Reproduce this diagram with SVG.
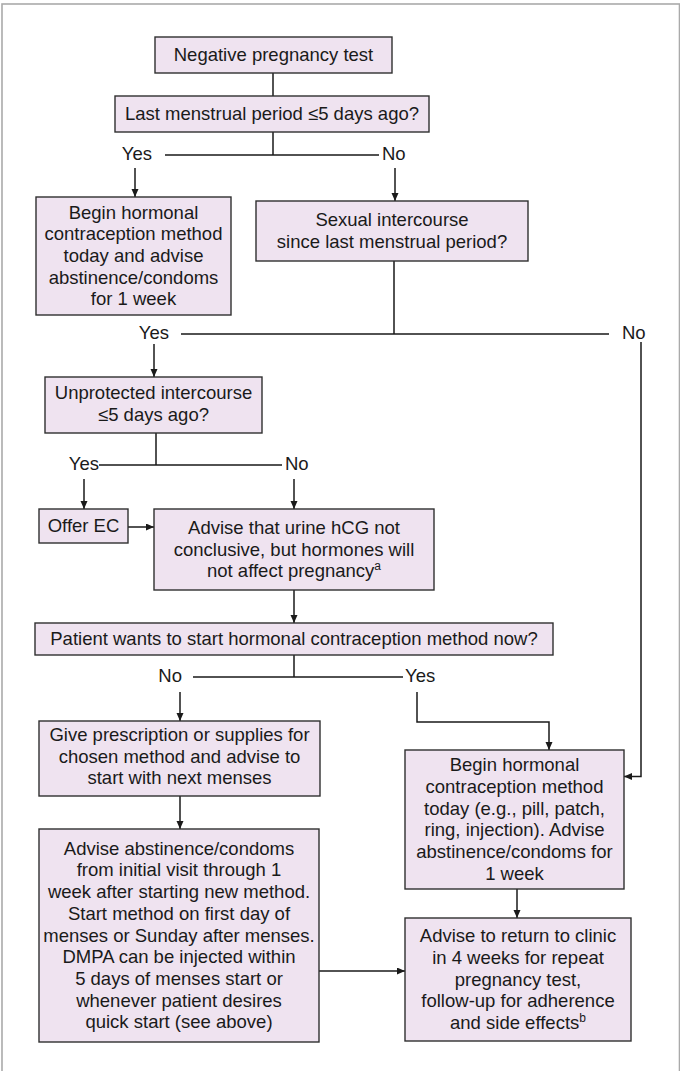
<svg xmlns="http://www.w3.org/2000/svg" width="680" height="1071" viewBox="0 0 680 1071">
<style>
.box{fill:#efe3f0;stroke:#2f2f2f;stroke-width:1.4}
text{font-family:"Liberation Sans",Arial,sans-serif;font-size:18.5px;fill:#1a1a1a}
.c{text-anchor:middle}
.e{text-anchor:end}
.ln{fill:none;stroke:#1a1a1a;stroke-width:1.5}
.sup{font-size:12px}
</style>
<defs>
<marker id="ah" markerUnits="userSpaceOnUse" markerWidth="9" markerHeight="8" refX="8" refY="3.5" orient="auto">
<path d="M0,0 L8,3.5 L0,7 z" fill="#1a1a1a"/>
</marker>
</defs>
<rect x="2" y="4" width="677.5" height="1080" fill="none" stroke="#aaaaaa" stroke-width="1.6"/>
<g id="connectors">
<path class="ln" d="M273,73 V96"/>
<path class="ln" d="M273,132 V155 M165,155 H379"/>
<path class="ln" d="M135,168 V197" marker-end="url(#ah)"/>
<path class="ln" d="M395,168 V201" marker-end="url(#ah)"/>
<path class="ln" d="M394,261 V334 M181,334 H609"/>
<path class="ln" d="M641,342 V776.5 H624" marker-end="url(#ah)"/>
<path class="ln" d="M154,344 V377" marker-end="url(#ah)"/>
<path class="ln" d="M156,433 V465 M99,465 H282"/>
<path class="ln" d="M84,479 V509" marker-end="url(#ah)"/>
<path class="ln" d="M294,479 V509" marker-end="url(#ah)"/>
<path class="ln" d="M128,527 H154" marker-end="url(#ah)"/>
<path class="ln" d="M294,590 V623" marker-end="url(#ah)"/>
<path class="ln" d="M294,655 V677 M193,677 H403"/>
<path class="ln" d="M180,692 V721" marker-end="url(#ah)"/>
<path class="ln" d="M417,692 V722 H549 V750" marker-end="url(#ah)"/>
<path class="ln" d="M180,796 V829" marker-end="url(#ah)"/>
<path class="ln" d="M517,889 V918" marker-end="url(#ah)"/>
<path class="ln" d="M319,971 H405" marker-end="url(#ah)"/>
<text class="e" x="152" y="160">Yes</text>
<text x="382" y="160">No</text>
<text class="e" x="169" y="339">Yes</text>
<text x="622" y="339">No</text>
<text class="e" x="99" y="470">Yes</text>
<text x="285" y="470">No</text>
<text class="e" x="182" y="682">No</text>
<text x="405" y="682">Yes</text>
</g>
<g id="n1">
<rect class="box" x="155" y="37" width="237" height="36"/>
<text class="c" x="273.5" y="61">Negative pregnancy test</text>
</g>
<g id="n2">
<rect class="box" x="115" y="96" width="314" height="36"/>
<text class="c" x="272" y="120">Last menstrual period ≤5 days ago?</text>
</g>
<g id="n3">
<rect class="box" x="36" y="197" width="195" height="118"/>
<text class="c" x="133.5" y="218.6">Begin hormonal</text>
<text class="c" x="133.5" y="240.3">contraception method</text>
<text class="c" x="133.5" y="262">today and advise</text>
<text class="c" x="133.5" y="283.7">abstinence/condoms</text>
<text class="c" x="133.5" y="305.4">for 1 week</text>
</g>
<g id="n4">
<rect class="box" x="256" y="201" width="272" height="60"/>
<text class="c" x="392" y="226.2">Sexual intercourse</text>
<text class="c" x="392" y="247.9">since last menstrual period?</text>
</g>
<g id="n5">
<rect class="box" x="45" y="377" width="217" height="56"/>
<text class="c" x="153.5" y="399">Unprotected intercourse</text>
<text class="c" x="153.5" y="420.7">≤5 days ago?</text>
</g>
<g id="n6">
<rect class="box" x="39" y="509" width="89" height="34"/>
<text class="c" x="83.5" y="532">Offer EC</text>
</g>
<g id="n7">
<rect class="box" x="154" y="509" width="280" height="81"/>
<text class="c" x="294" y="533.8">Advise that urine hCG not</text>
<text class="c" x="294" y="555.5">conclusive, but hormones will</text>
<text class="c" x="294" y="577.2">not affect pregnancy<tspan class="sup" dy="-7">a</tspan></text>
</g>
<g id="n8">
<rect class="box" x="35" y="623" width="518" height="32"/>
<text class="c" x="294" y="645">Patient wants to start hormonal contraception method now?</text>
</g>
<g id="n9">
<rect class="box" x="39" y="721" width="281" height="75"/>
<text class="c" x="179.5" y="741">Give prescription or supplies for</text>
<text class="c" x="179.5" y="762.7">chosen method and advise to</text>
<text class="c" x="179.5" y="784.4">start with next menses</text>
</g>
<g id="n10">
<rect class="box" x="405" y="750" width="219" height="139"/>
<text class="c" x="514.5" y="771.3">Begin hormonal</text>
<text class="c" x="514.5" y="793">contraception method</text>
<text class="c" x="514.5" y="814.7">today (e.g., pill, patch,</text>
<text class="c" x="514.5" y="836.4">ring, injection). Advise</text>
<text class="c" x="514.5" y="858.1">abstinence/condoms for</text>
<text class="c" x="514.5" y="879.8">1 week</text>
</g>
<g id="n11">
<rect class="box" x="39" y="829" width="280" height="213"/>
<text class="c" x="179" y="854.7">Advise abstinence/condoms</text>
<text class="c" x="179" y="876.4">from initial visit through 1</text>
<text class="c" x="179" y="898.1">week after starting new method.</text>
<text class="c" x="179" y="919.8">Start method on first day of</text>
<text class="c" x="179" y="941.5">menses or Sunday after menses.</text>
<text class="c" x="179" y="963.2">DMPA can be injected within</text>
<text class="c" x="179" y="984.9">5 days of menses start or</text>
<text class="c" x="179" y="1006.6">whenever patient desires</text>
<text class="c" x="179" y="1028.3">quick start (see above)</text>
</g>
<g id="n12">
<rect class="box" x="405" y="918" width="226" height="123"/>
<text class="c" x="518" y="942.1">Advise to return to clinic</text>
<text class="c" x="518" y="963.8">in 4 weeks for repeat</text>
<text class="c" x="518" y="985.5">pregnancy test,</text>
<text class="c" x="518" y="1007.2">follow-up for adherence</text>
<text class="c" x="518" y="1028.9">and side effects<tspan class="sup" dy="-7">b</tspan></text>
</g>
</svg>
